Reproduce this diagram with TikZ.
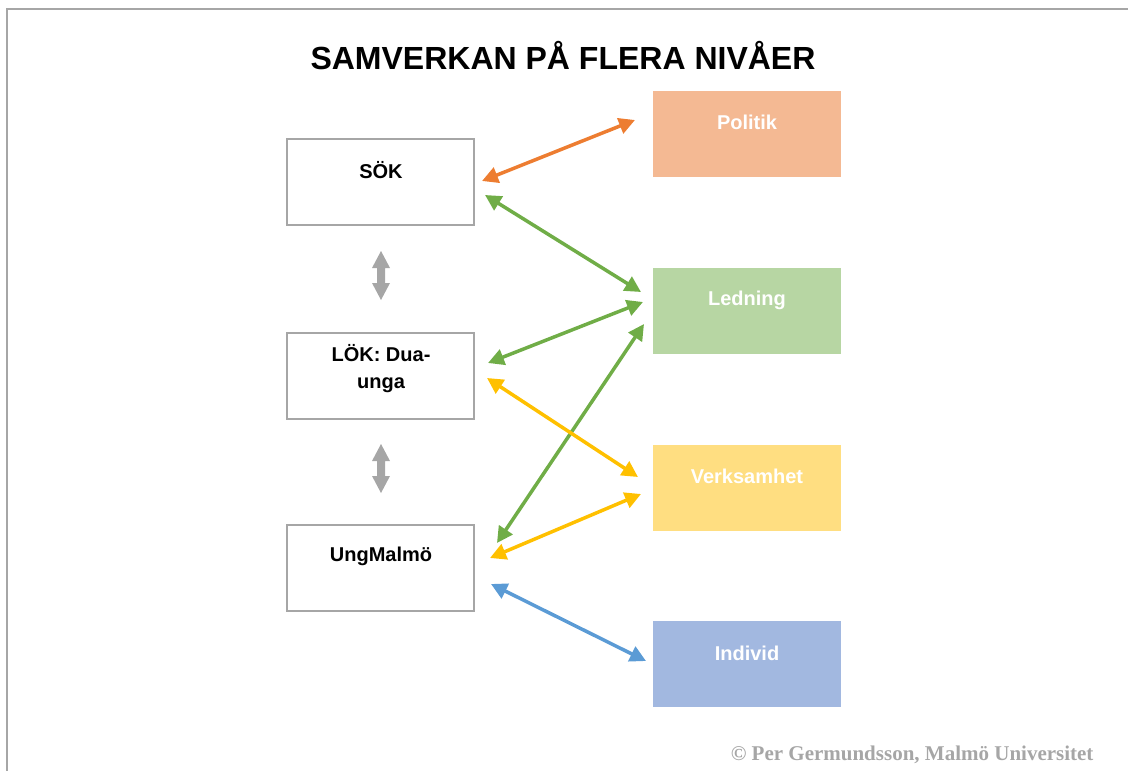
\documentclass[tikz,border=0pt]{standalone}
\usepackage{fontspec}
\setmainfont{Liberation Sans}
\newfontfamily\serifcr{Liberation Serif}
\usetikzlibrary{arrows.meta}
\definecolor{frameg}{HTML}{A6A6A6}
\definecolor{orng}{HTML}{ED7D31}
\definecolor{grn}{HTML}{70AD47}
\definecolor{ylw}{HTML}{FFC000}
\definecolor{blu}{HTML}{5B9BD5}
\definecolor{fpol}{HTML}{F4B993}
\definecolor{fled}{HTML}{B7D6A3}
\definecolor{fver}{HTML}{FFDE81}
\definecolor{find}{HTML}{A2B8E0}
\tikzset{
  leftbox/.style={draw=frameg, line width=2pt, fill=white, minimum width=187pt, minimum height=86pt, inner sep=0pt},
  rightbox/.style={fill=#1, minimum width=188pt, minimum height=86pt, inner sep=0pt},
  lbl/.style={font=\fontsize{20}{27}\selectfont\bfseries, align=center},
  wlbl/.style={font=\fontsize{20}{27}\selectfont\bfseries, text=white},
  link/.style={draw=#1, line width=3.5pt, {Triangle[length=16pt,width=16pt]}-{Triangle[length=16pt,width=16pt]}},
}
\begin{document}
\begin{tikzpicture}[x=1pt,y=-1pt]
\useasboundingbox (0,0) rectangle (1128,771);
\draw[frameg, line width=2.5pt] (7,775) -- (7,9) -- (1132,9);
\node[font=\fontsize{32}{38}\selectfont\bfseries] (title) at (563,56) {SAMVERKAN PÅ FLERA NIVÅER};
% left boxes
\node[leftbox] (sok) at (380.5,182) {};
\node[lbl] (sokt) at (381,170) {SÖK};
\node[leftbox] (lok) at (380.5,375.5) {};
\node[lbl] (lokt) at (381,369) {LÖK: Dua-\\unga};
\node[leftbox] (ung) at (380.5,568) {};
\node[lbl] (ungt) at (381,556) {UngMalmö};
% right boxes
\node[rightbox=fpol] (pol) at (747,134) {};
\node[wlbl] (polt) at (747,122) {Politik};
\node[rightbox=fled] (led) at (747,311) {};
\node[wlbl] (ledt) at (747,300) {Ledning};
\node[rightbox=fver] (ver) at (747,488) {};
\node[wlbl] (vert) at (747,476) {Verksamhet};
\node[rightbox=find] (ind) at (747,664) {};
\node[wlbl] (indt) at (747,653) {Individ};
% arrow end points
\coordinate (a1) at (482,181); \coordinate (b1) at (635,120);
\coordinate (a2) at (485,195); \coordinate (b2) at (641,292);
\coordinate (a3) at (488,363); \coordinate (b3) at (643,302);
\coordinate (a4) at (497,543); \coordinate (b4) at (644,324);
\coordinate (a5) at (487,378); \coordinate (b5) at (638,477);
\coordinate (a6) at (490,558); \coordinate (b6) at (641,494);
\coordinate (a7) at (491,584); \coordinate (b7) at (646,661);
\draw[link=orng] (a1) -- (b1);
\draw[link=grn] (a2) -- (b2);
\draw[link=grn] (a3) -- (b3);
\draw[link=grn] (a4) -- (b4);
\draw[link=ylw] (a5) -- (b5);
\draw[link=ylw] (a6) -- (b6);
\draw[link=blu] (a7) -- (b7);
% gray block arrows
\foreach \t in {251,444}{
  \fill[frameg] (381,\t) -- (390,\t+17) -- (385,\t+17) -- (385,\t+32) -- (390,\t+32) -- (381,\t+49)
     -- (372,\t+32) -- (377,\t+32) -- (377,\t+17) -- (372,\t+17) -- cycle;
}
\node[font=\serifcr\fontsize{21}{24}\selectfont\bfseries, text=frameg, anchor=east] (copy) at (1097,755) {© Per Germundsson, Malmö Universitet};
\end{tikzpicture}
\end{document}
